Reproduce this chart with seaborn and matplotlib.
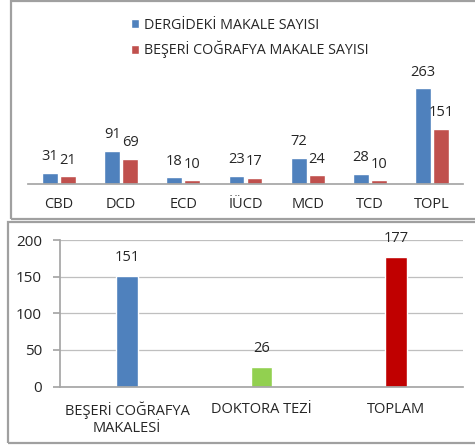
import matplotlib
matplotlib.use('Agg')
import matplotlib.pyplot as plt
from matplotlib.patches import Rectangle
import pandas as pd
import seaborn as sns

# top chart: articles per journal
journals = ['CBD', 'DCD', 'ECD', 'İÜCD', 'MCD', 'TCD', 'TOPL']
dergi_counts = [31, 91, 18, 23, 72, 28, 263]
beseri_counts = [21, 69, 10, 17, 24, 10, 151]
series_names = ['DERGİDEKİ MAKALE SAYISI', 'BEŞERİ COĞRAFYA MAKALE SAYISI']

# bottom chart: totals
totals_labels = ['BEŞERİ COĞRAFYA\nMAKALESİ', 'DOKTORA TEZİ', 'TOPLAM']
totals_values = [151, 26, 177]

W, H = 475, 445
sns.set_theme(style='white')
plt.rcParams['font.family'] = ['Open Sans', 'DejaVu Sans']
txt = '#262626'
grey = '#A6A6A6'

fig = plt.figure(figsize=(W / 100, H / 100), dpi=100)


def fx(px):
    return px / W


def fy(py):
    return 1 - py / H


# panel frames
fig.patches.append(Rectangle((fx(11), fy(219)), fx(480 - 11), fy(1) - fy(219),
                             transform=fig.transFigure, fill=False, edgecolor='#A0A0A0', lw=1.6))
fig.patches.append(Rectangle((fx(8), fy(443)), fx(480 - 8), fy(222) - fy(443),
                             transform=fig.transFigure, fill=False, edgecolor='#A0A0A0', lw=1.6))

# ---- top chart ----
top_df = pd.DataFrame({
    'dergi': journals * 2,
    'seri': [series_names[0]] * len(journals) + [series_names[1]] * len(journals),
    'sayi': dergi_counts + beseri_counts,
})
ax1 = fig.add_axes([fx(28), fy(184), fx(463 - 28), fy(70) - fy(184)])
sns.barplot(data=top_df, x='dergi', y='sayi', hue='seri', order=journals,
            hue_order=series_names, palette=['#4F81BD', '#C0504D'], saturation=1,
            width=0.58, gap=0.12, ax=ax1, legend=True)
ax1.set_ylim(0, 312)
ax1.set_xlim(-0.5, len(journals) - 0.5)
for cont in ax1.containers:
    ax1.bar_label(cont, padding=6, fontsize=10.5, color=txt)
ax1.set_xlabel('')
ax1.set_ylabel('')
ax1.set_yticks([])
for s in ['top', 'right', 'left']:
    ax1.spines[s].set_visible(False)
ax1.spines['bottom'].set_color(grey)
ax1.tick_params(axis='x', length=0, labelsize=10.5, labelcolor=txt, pad=9)
handles, labels = ax1.get_legend_handles_labels()
ax1.legend(handles, labels, loc='upper left', bbox_to_anchor=(fx(118), fy(5)),
           bbox_transform=fig.transFigure, frameon=False, fontsize=10.3,
           handlelength=0.6, handleheight=0.6, handletextpad=0.3,
           labelspacing=0.55, labelcolor=txt)

# ---- bottom chart ----
bot_df = pd.DataFrame({'kat': totals_labels, 'deger': totals_values})
ax2 = fig.add_axes([fx(60), fy(386.5), fx(463 - 60), fy(240) - fy(386.5)])
sns.barplot(data=bot_df, x='kat', y='deger', hue='kat', order=totals_labels,
            palette=['#4F81BD', '#92D050', '#C00000'], saturation=1, width=0.16,
            ax=ax2, legend=False)
ax2.set_ylim(0, 200)
ax2.set_yticks([0, 50, 100, 150, 200])
ax2.set_xlim(-0.5, len(totals_labels) - 0.5)
ax2.yaxis.grid(True, color='#BFBFBF', lw=0.9)
ax2.set_axisbelow(True)
for cont in ax2.containers:
    ax2.bar_label(cont, padding=8, fontsize=10.5, color=txt)
ax2.set_xlabel('')
ax2.set_ylabel('')
for s in ['top', 'right']:
    ax2.spines[s].set_visible(False)
ax2.spines['left'].set_color(grey)
ax2.spines['bottom'].set_color(grey)
ax2.set_xticks([-0.5, 0.5, 1.5, 2.5], minor=True)
ax2.tick_params(axis='x', which='major', length=0, labelsize=10.5, labelcolor=txt, pad=11)
ax2.tick_params(axis='x', which='minor', length=4, color=grey, direction='out')
ax2.tick_params(axis='y', length=5, color=grey, labelsize=11, labelcolor=txt, pad=8, left=True)

fig.savefig('out.png', dpi=100)
